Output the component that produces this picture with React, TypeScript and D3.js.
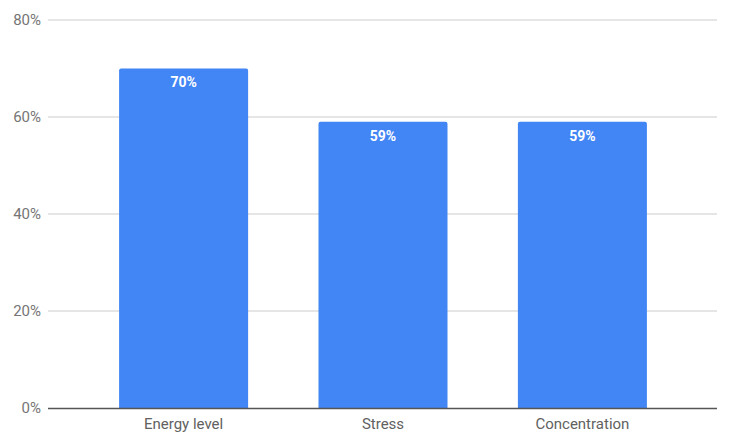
import React from 'react';
import * as d3 from 'd3';

const categories = ['Energy level', 'Stress', 'Concentration'];
const values = [70, 59, 59];
const yTicks = [0, 20, 40, 60, 80];

const W = 731;
const H = 444;

export default function App() {
  const x = d3.scaleBand<string>().domain(categories).range([84, 682]).paddingInner(0.353).paddingOuter(0.176);
  const y = d3.scaleLinear().domain([0, 80]).range([408, 20]);
  const font = 'Roboto, sans-serif';

  return (
    <svg width={W} height={H} style={{ position: 'absolute', left: 0, top: 0, background: '#fff' }}>
      {yTicks.map((t) => (
        <g key={t}>
          {t > 0 && <line x1={48} x2={717} y1={y(t)} y2={y(t)} stroke="#cccccc" strokeWidth={1} />}
          <text x={41} y={y(t)} dy="0.35em" textAnchor="end" fontFamily={font} fontSize={15} fill="#757575">
            {t}%
          </text>
        </g>
      ))}
      {categories.map((c, i) => {
        const x0 = x(c) ?? 0;
        const bw = x.bandwidth();
        const top = y(values[i]);
        return (
          <g key={c}>
            <path
              d={`M${x0},${y(0)} V${top + 2} Q${x0},${top} ${x0 + 2},${top} H${x0 + bw - 2} Q${x0 + bw},${top} ${x0 + bw},${top + 2} V${y(0)} Z`}
              fill="#4285f4"
            />
            <text x={x0 + bw / 2} y={top + 14} dy="0.35em" textAnchor="middle" fontFamily={font} fontSize={14} fontWeight="bold" fill="#ffffff">
              {values[i]}%
            </text>
            <text x={x0 + bw / 2} y={y(0) + 16} dy="0.35em" textAnchor="middle" fontFamily={font} fontSize={15} fill="#616161">
              {c}
            </text>
          </g>
        );
      })}
      <line x1={48} x2={717} y1={y(0) + 0.5} y2={y(0) + 0.5} stroke="#555555" strokeWidth={1.5} />
    </svg>
  );
}
